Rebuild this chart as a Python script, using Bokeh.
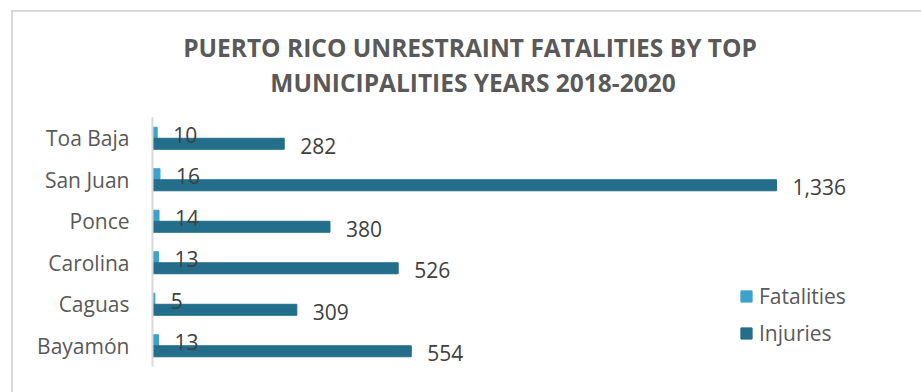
from bokeh.plotting import figure
from bokeh.layouts import column
from bokeh.models import (FactorRange, Range1d, ColumnDataSource, LabelSet, Label,
                          Legend, LegendItem)
from bokeh.transform import dodge
from bokeh.core.properties import value
from bokeh.embed import file_html
from bokeh.resources import INLINE

# ---- data ----
municipalities = ["Toa Baja", "San Juan", "Ponce", "Carolina", "Caguas", "Bayamón"]
fatalities = [10, 16, 14, 13, 5, 13]
injuries = [282, 1336, 380, 526, 309, 554]
title_line1 = "PUERTO RICO UNRESTRAINT FATALITIES BY TOP"
title_line2 = "MUNICIPALITIES YEARS 2018-2020"

FAT_COLOR = "#3DA2CB"
INJ_COLOR = "#236E8A"
FONT = "Open Sans"
W = 908
ML, MR = 139, 41   # shared left/right borders (frames are aligned in the column)

# ---- title panel (1 data unit = 1 px of canvas) ----
tf = figure(width=W, height=100, x_range=Range1d(ML, W - MR), y_range=Range1d(0, 100),
            x_axis_location=None, y_axis_location=None,
            min_border_left=ML, min_border_right=MR, min_border_top=0, min_border_bottom=0,
            output_backend="svg", toolbar_location=None)
tf.grid.visible = False
tf.outline_line_color = None
for txt, cx, by in ((title_line1, 456.5, 64.8), (title_line2, 459.5, 29.8)):
    tf.add_layout(Label(x=cx, y=by, text=txt, text_align="center", text_baseline="alphabetic",
                        text_font=FONT, text_font_style="bold", text_font_size="24.5px",
                        text_color="#595959"))

# ---- chart ----
factors = list(reversed(municipalities))
src = ColumnDataSource(dict(
    m=municipalities,
    fat=fatalities,
    inj=injuries,
    fat_lbl=[f"{v:,}" for v in fatalities],
    inj_lbl=[f"{v:,}" for v in injuries],
))

p = figure(
    width=W, height=280,
    y_range=FactorRange(factors=factors, range_padding=0),
    x_range=Range1d(0, 1558.6),
    output_backend="svg", toolbar_location=None,
    min_border_left=ML, min_border_right=MR,
    min_border_top=5, min_border_bottom=26,
)
p.outline_line_color = None
p.xgrid.visible = False
p.ygrid.visible = False
p.xaxis.visible = False

BAR_H = 0.265
OFF = 0.133

r_fat = p.hbar(y=dodge("m", OFF, range=p.y_range), left=0, right="fat", height=BAR_H,
               source=src, color=FAT_COLOR)
r_inj = p.hbar(y=dodge("m", -OFF, range=p.y_range), left=0, right="inj", height=BAR_H,
               source=src, color=INJ_COLOR)

for col, lbl, off in (("fat", "fat_lbl", OFF), ("inj", "inj_lbl", -OFF)):
    p.add_layout(LabelSet(x=col, y=dodge("m", off, range=p.y_range), text=lbl, source=src,
                          x_offset=16, y_offset=-2, text_align="left", text_baseline="middle",
                          text_font=value(FONT), text_font_size="21px", text_color="#404040"))

ax = p.yaxis[0]
ax.axis_line_color = "#d9d9d9"
ax.axis_line_width = 2
ax.major_tick_line_color = None
ax.minor_tick_line_color = None
ax.major_tick_out = 0
ax.major_tick_in = 0
ax.major_label_standoff = 23
ax.major_label_text_font = FONT
ax.major_label_text_font_size = "21px"
ax.major_label_text_color = "#595959"

legend = Legend(items=[LegendItem(label="Fatalities", renderers=[r_fat]),
                       LegendItem(label="Injuries", renderers=[r_inj])],
                location=(587, 19), orientation="vertical")
legend.border_line_color = None
legend.background_fill_alpha = 0
legend.padding = 0
legend.margin = 0
legend.glyph_width = 14
legend.glyph_height = 14
legend.label_standoff = 6
legend.spacing = 9
legend.label_text_font = FONT
legend.label_text_font_size = "21px"
legend.label_text_color = "#595959"
p.add_layout(legend, "center")

layout = column(tf, p, spacing=0, margin=(12, 0, 0, 13),
                styles={"outline": "2px solid #d9d9d9"})

open("out.html", "w").write(file_html(layout, INLINE))
